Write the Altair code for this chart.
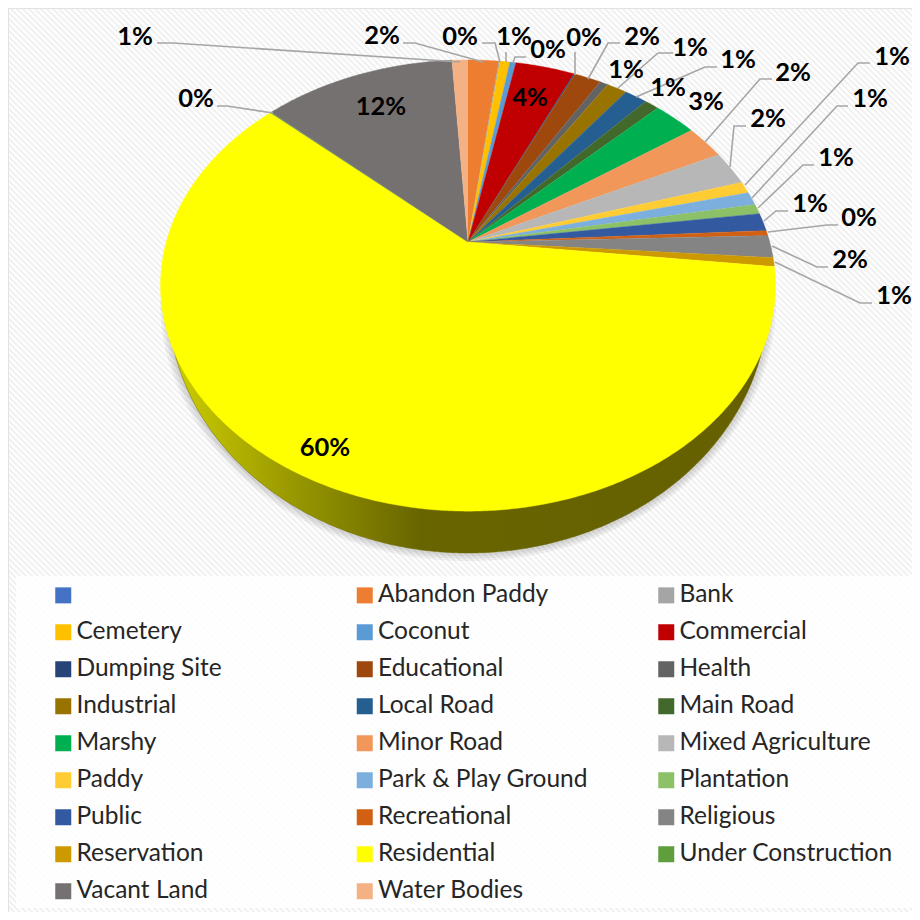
import math
import altair as alt
import pandas as pd

# ---- values ----
categories = [" ", "Abandon Paddy", "Bank", "Cemetery", "Coconut", "Commercial", "Dumping Site",
              "Educational", "Health", "Industrial", "Local Road", "Main Road", "Marshy", "Minor Road",
              "Mixed Agriculture", "Paddy", "Park & Play Ground", "Plantation", "Public", "Recreational",
              "Religious", "Reservation", "Residential", "Under Construction", "Vacant Land", "Water Bodies"]
shares = [0, 1.95, 0.07, 0.63, 0.38, 3.75, 0.08, 1.68, 0.52, 1.27, 1.43, 0.9, 2.69, 2.49, 2.49, 0.86,
          0.97, 0.71, 1.3, 0.37, 1.6, 0.64, 60.0, 0.05, 12.2, 1.01]
colors = ["#4472c4", "#ed7d31", "#a5a5a5", "#ffc000", "#5b9bd5", "#c00000", "#264478", "#9e480e", "#636363",
          "#997300", "#255e91", "#43682b", "#00b050", "#f1975a", "#b7b7b7", "#ffcd33", "#7cafdd", "#8cc168",
          "#335aa1", "#d26012", "#848484", "#cc9a00", "#ffff00", "#5f9e3c", "#767171", "#f4b183"]

# ---- label placement, in page pixels: category, label centre, leader points ----
label_layout = [
    ("Abandon Paddy", 382, 35, [(403, 43), (415, 43), (483, 62)]),
    ("Bank", 460, 36, [(482, 43), (495, 43), (500, 62)]),
    ("Cemetery", 514, 36, [(506, 52), (506, 62)]),
    ("Coconut", 548, 49, [(526, 57), (515, 57), (513, 63)]),
    ("Commercial", 530, 97, []),
    ("Dumping Site", 584, 37, [(575, 52), (575, 75)]),
    ("Educational", 642, 36, [(620, 43), (608, 43), (588, 79)]),
    ("Health", 626, 69, []),
    ("Industrial", 690, 47, [(673, 53), (658, 53), (618, 88)]),
    ("Local Road", 738, 59, [(717, 67), (705, 67), (636, 97)]),
    ("Main Road", 668, 87, []),
    ("Marshy", 706, 101, []),
    ("Minor Road", 793, 72, [(772, 79), (760, 79), (705, 142)]),
    ("Mixed Agriculture", 768, 118, [(746, 126), (734, 126), (730, 167)]),
    ("Paddy", 892, 56, [(870, 63), (858, 63), (745, 185)]),
    ("Park & Play Ground", 870, 98, [(848, 106), (837, 106), (752, 198)]),
    ("Plantation", 836, 157, [(814, 165), (803, 165), (758, 208)]),
    ("Public", 810, 203, [(788, 211), (776, 211), (764, 221)]),
    ("Recreational", 859, 217, [(838, 225), (827, 225), (768, 232)]),
    ("Religious", 850, 259, [(828, 267), (817, 267), (772, 246)]),
    ("Reservation", 894, 295, [(872, 303), (860, 303), (775, 262)]),
    ("Residential", 325, 447, []),
    ("Under Construction", 196, 98, [(217, 106), (227, 106), (273, 113)]),
    ("Vacant Land", 381, 106, []),
    ("Water Bodies", 135, 36, [(157, 43), (173, 43), (460, 62)]),
]

FONT = "Lato"
HUB_X, HUB_Y = 468.0, 242.0
K, A, B = 0.193, 217.2, 301.7   # perspective of the tilted disc


def rim(t):
    d = 1 + K * math.cos(t)
    return HUB_X + B * math.sin(t) / d, HUB_Y - A * math.cos(t) / d


total = sum(shares)
rows, acc = [], 0.0
for i, (c, s) in enumerate(zip(categories, shares)):
    t0 = acc / total * 2 * math.pi
    acc += s
    t1 = acc / total * 2 * math.pi
    pts = [(HUB_X, HUB_Y)]
    n = max(2, int((t1 - t0) * 120))
    pts += [rim(t0 + (t1 - t0) * j / n) for j in range(n + 1)]
    for j, (x, y) in enumerate(pts):
        rows.append({"cat": c, "x": x, "y": y, "o": j})
wedges = pd.DataFrame(rows)

X = alt.X("x:Q", scale=alt.Scale(domain=[8, 912]), axis=None)
Y = alt.Y("y:Q", scale=alt.Scale(domain=[912, 8]), axis=None)

# background hatching
hatch = pd.DataFrame([{"x": v, "x2": v + 1000, "y": 0, "y2": 1000} for v in range(-1000, 920, 6)])
bg = alt.Chart(hatch).mark_rule(stroke="#f1f1f1", strokeWidth=2.2, clip=True).encode(
    x=X, y=Y, x2="x2:Q", y2="y2:Q")

panel = alt.Chart(pd.DataFrame([{"x": 16, "x2": 912, "y": 576, "y2": 908}])).mark_rect(
    fill="#ffffff", opacity=0.85).encode(x=X, y=Y, x2="x2:Q", y2="y2:Q")
top_rule = alt.Chart(pd.DataFrame([{"x": 8, "x2": 912, "y": 8}])).mark_rule(
    stroke="#e2e2e2", strokeWidth=2).encode(x=X, y=Y, x2="x2:Q")
left_rule = alt.Chart(pd.DataFrame([{"x": 8, "y": 8, "y2": 912}])).mark_rule(
    stroke="#e2e2e2", strokeWidth=2).encode(x=X, y=Y, y2="y2:Q")

# side wall of the disc
CX, CY, RX, RY = 468.0, 300.0, 300.0, 253.0
wall_rows = []
for j in range(241):
    a = math.pi * j / 240
    wall_rows.append({"x": CX - RX * math.cos(a), "y": CY + RY * math.sin(a), "o": j})
wall = pd.DataFrame(wall_rows)

shadows = [
    alt.Chart(wall).mark_line(stroke="#000000", strokeWidth=w, opacity=0.05).encode(x=X, y=Y, order="o:Q")
    for w in (16, 11, 6)
]
side = alt.Chart(wall).mark_line(
    filled=True,
    stroke="#6a6600",
    strokeWidth=0.5,
    fill=alt.Gradient(gradient="linear", x1=0, x2=1, y1=0, y2=0, stops=[
        alt.GradientStop(offset=0, color="#cfcf00"),
        alt.GradientStop(offset=0.2, color="#9a9a00"),
        alt.GradientStop(offset=0.42, color="#686500"),
        alt.GradientStop(offset=1, color="#666000"),
    ]),
).encode(x=X, y=Y, order="o:Q")

slices = alt.Chart(wedges).mark_line(filled=True, strokeWidth=0.4).encode(
    x=X, y=Y, order="o:Q",
    fill=alt.Fill("cat:N", scale=alt.Scale(domain=categories, range=colors), legend=alt.Legend(
        title=None, orient="none", legendX=43, legendY=575, columns=3, gridAlign="all",
        symbolType="square", symbolSize=256, symbolStrokeWidth=0, labelFont=FONT, labelFontSize=24.5,
        labelColor="#262626", columnPadding=62.5, rowPadding=12, labelOffset=1, labelLimit=300,
        direction="horizontal")),
    stroke=alt.Stroke("cat:N", scale=alt.Scale(domain=categories, range=colors), legend=None),
)

leader_rows, label_rows = [], []
for c, lx, ly, pts in label_layout:
    pct = shares[categories.index(c)] / total * 100
    label_rows.append({"x": lx, "y": ly, "t": f"{round(pct)}%"})
    for j, (x, y) in enumerate(pts):
        leader_rows.append({"cat": c, "x": x, "y": y, "o": j})
leaders = alt.Chart(pd.DataFrame(leader_rows)).mark_line(stroke="#a6a6a6", strokeWidth=1.6).encode(
    x=X, y=Y, order="o:Q", detail="cat:N")
labels = alt.Chart(pd.DataFrame(label_rows)).mark_text(
    font=FONT, fontSize=25.5, fontWeight="bold", color="#000000", align="center", baseline="middle", dy=0.5
).encode(x=X, y=Y, text="t:N")

chart = alt.layer(bg, panel, top_rule, left_rule, *shadows, side, slices, leaders, labels).properties(
    width=904, height=904, padding=0, autosize=alt.AutoSizeParams(type="none"),
    background="#ffffff",
).configure_view(stroke=None)

chart.save("out.html", embed_options={"renderer": "svg", "actions": False})
